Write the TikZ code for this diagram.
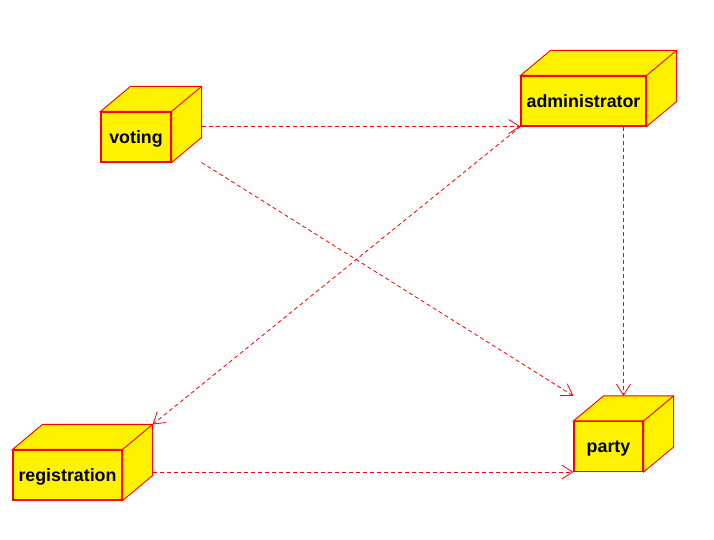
\documentclass[tikz,border=0pt]{standalone}
\usepackage{fontspec}
\setmainfont{Liberation Sans}
\usetikzlibrary{arrows.meta}

\begin{document}
\begin{tikzpicture}[x=1pt,y=1pt,
		cube/.style={draw=red, fill=yellow, line width=1.1pt, minimum height=50pt, inner sep=0pt,
			text height=13pt, text depth=0pt, font=\fontsize{17.8}{20}\selectfont\bfseries},
		cubeface/.style={draw=red, fill=yellow, line width=0.9pt, line join=miter},
		dep/.style={red, line width=0.8pt, dash pattern=on 4pt off 3pt,
			-{Straight Barb[length=11pt,width=14pt,line width=0.8pt]}}]
			\useasboundingbox[fill=white] (0,0) rectangle (714,540);
			\node[cube, minimum width=70pt] (voting) at (136,403) {voting};
			\node[cube, minimum width=125pt] (administrator) at (583.5,439) {administrator};
			\node[cube, minimum width=109pt] (registration) at (67.5,65) {registration};
			\node[cube, minimum width=69pt] (party) at (608.5,93.5) {party};
			% top and side faces
			\foreach \n in {voting,administrator,registration,party}
			\draw[cubeface] (\n.north west) -- ++(30,25) -- ([shift={(30,25)}]\n.north east)
			-- ([shift={(30,25)}]\n.south east) -- (\n.south east) -- (\n.north east) -- cycle
			(\n.north east) -- ++(30,25);
			\coordinate (party top) at ([shift={(15,25)}]party.north);
			\coordinate (registration side) at ([xshift=30pt]registration.east);
			\draw[dep] ([xshift=30pt]voting.east |- administrator.south) -- (administrator.south west);
			\draw[dep] ([xshift=30pt]voting.south east) -- ([yshift=25pt]party.north west);
			\draw[dep] (administrator.south -| party top) -- (party top);
			\draw[dep] (administrator.south west) -- ([shift={(30,25)}]registration.north east);
			\draw[dep] (registration side |- party.south west) -- (party.south west);
		\end{tikzpicture}
\end{document}
